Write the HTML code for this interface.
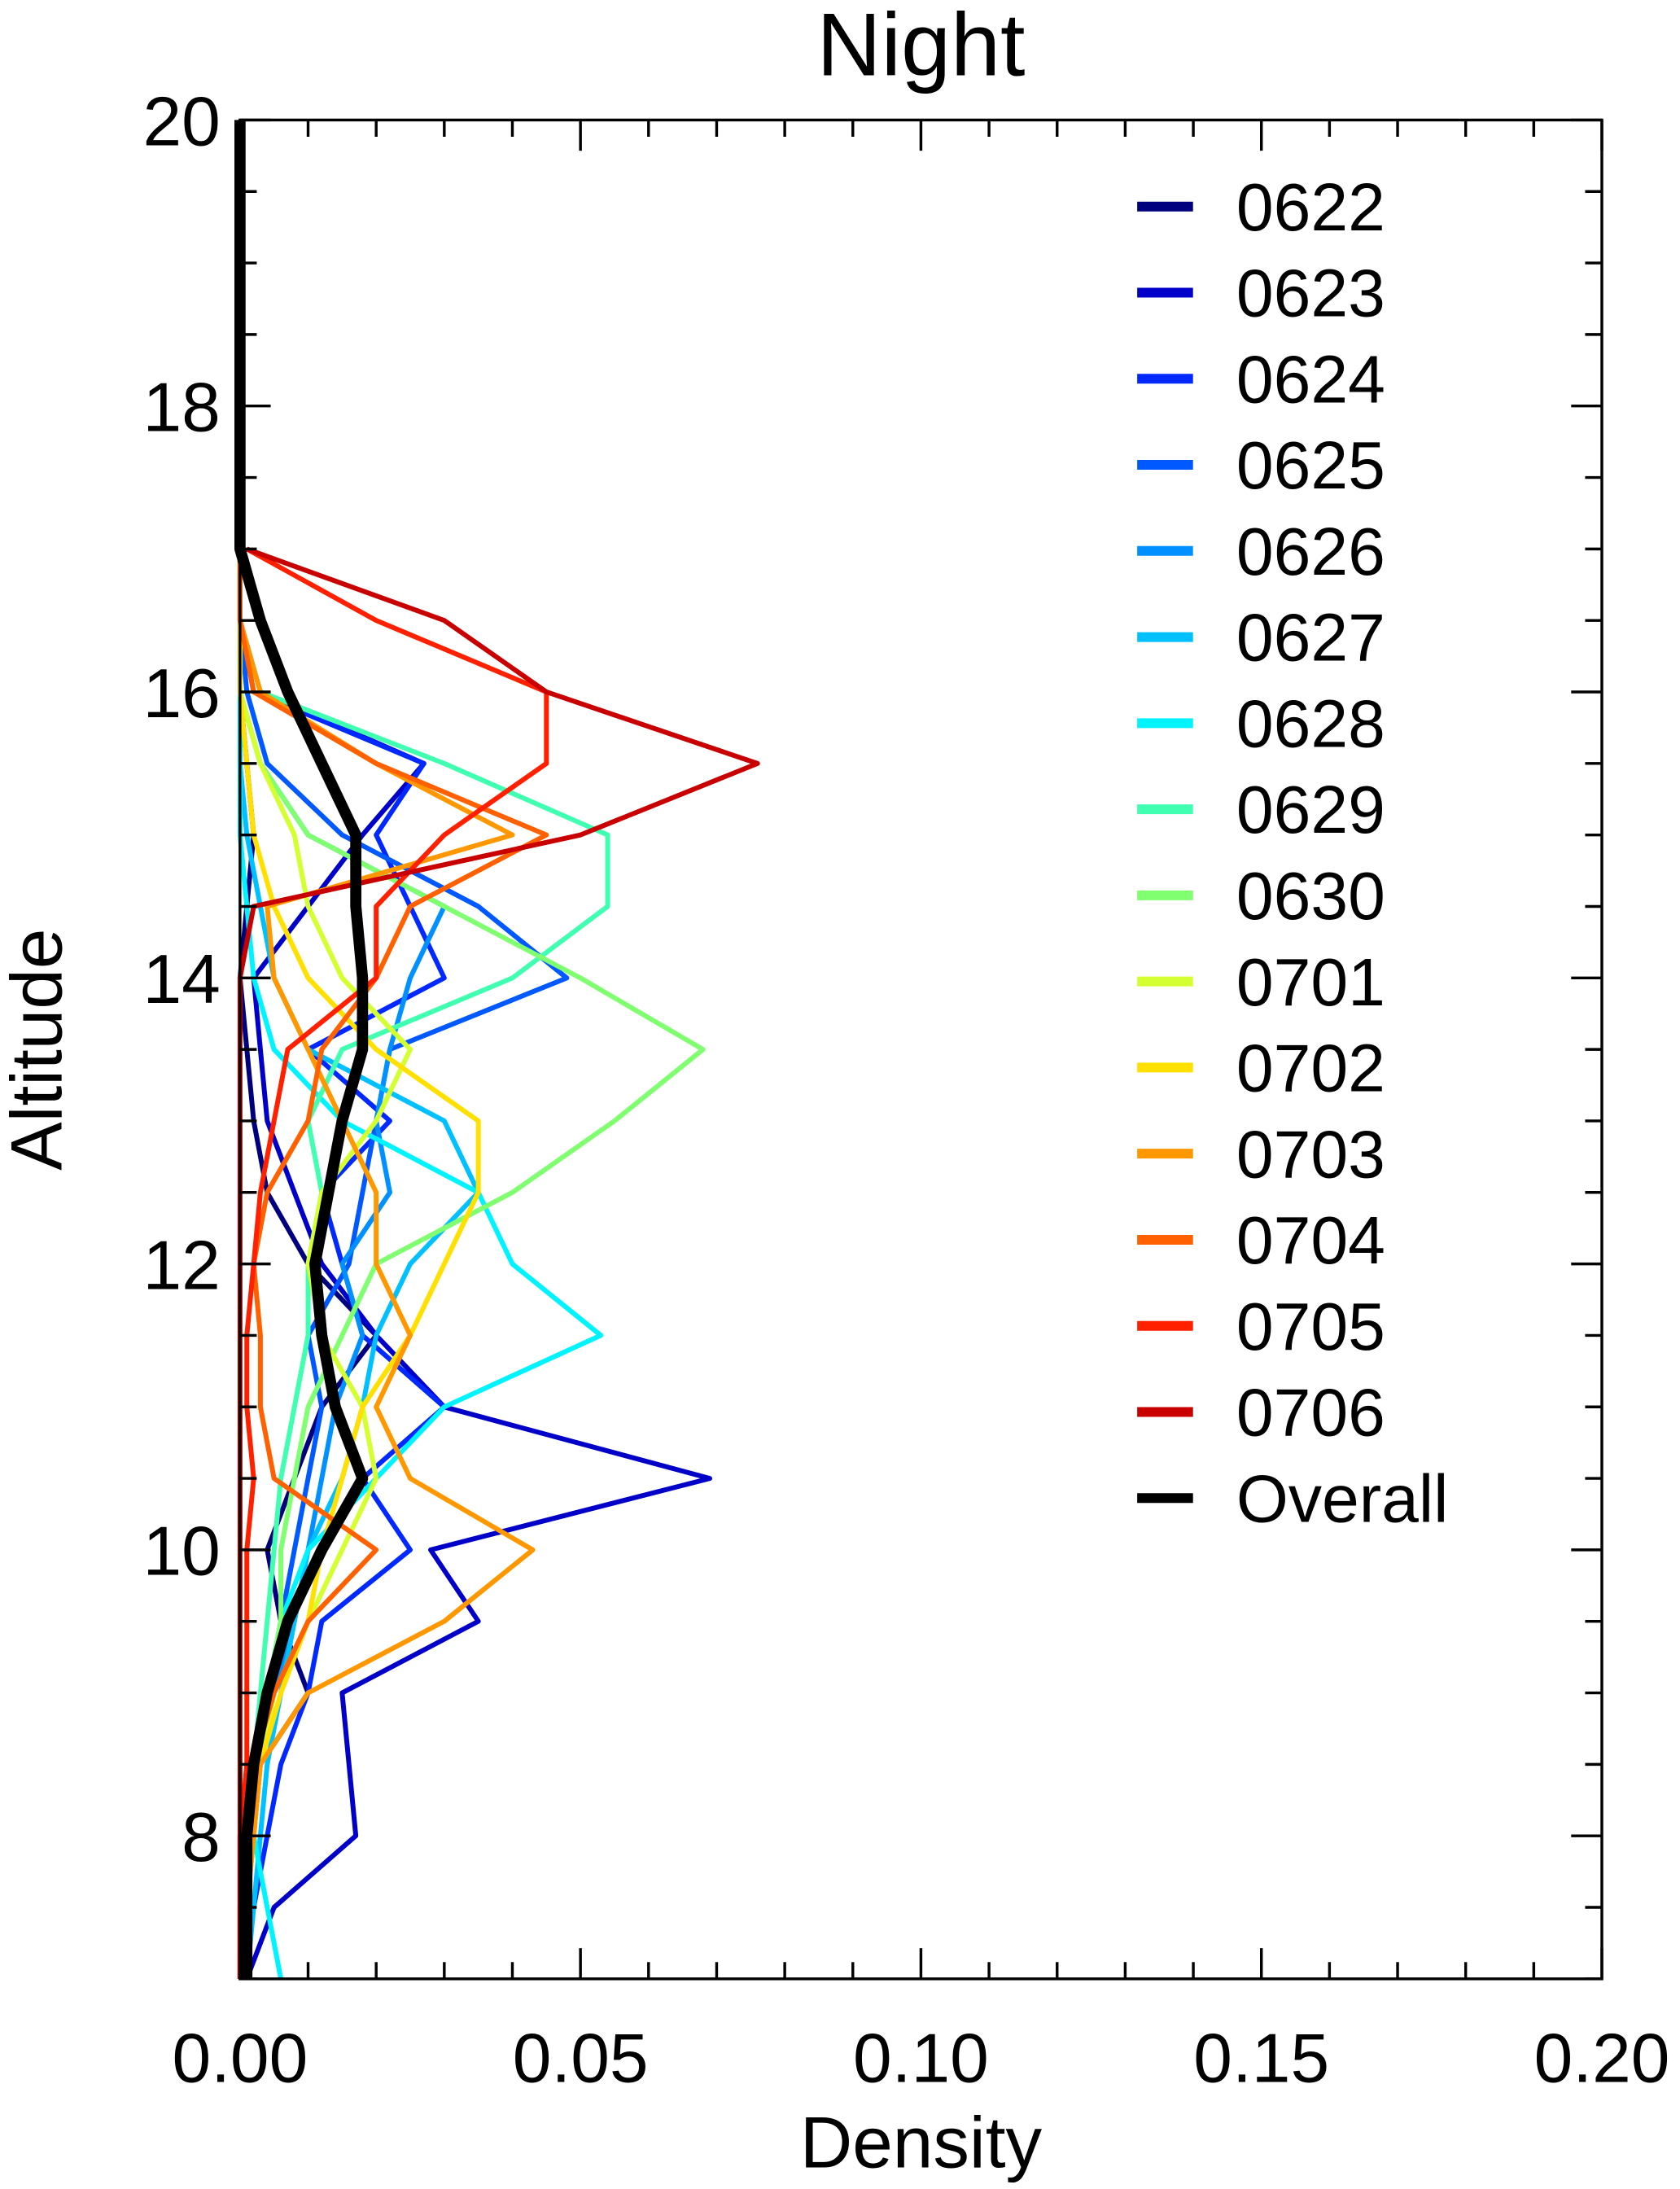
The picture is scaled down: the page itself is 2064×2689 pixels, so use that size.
<!DOCTYPE html>
<html><head><meta charset="utf-8"><style>
html,body{margin:0;padding:0;background:#fff;}
svg{display:block;}
text{font-family:"Liberation Sans",sans-serif;fill:#000;}
</style></head><body>
<svg id="chart" width="2064" height="2689" viewBox="0 0 1204 1568.6" preserveAspectRatio="none" xmlns="http://www.w3.org/2000/svg">
<text x="660" y="54" font-size="64" text-anchor="middle">Night</text>
<text transform="translate(44,752) rotate(-90)" font-size="52" text-anchor="middle">Altitude</text>
<text x="660" y="1553" font-size="52" text-anchor="middle">Density</text>
<g id="series"></g>
<g id="axes"></g>
<g id="legend"></g>
<rect x="172" y="86" width="976" height="1332" fill="none" stroke="#000" stroke-width="2"/>
</svg>
<script>
const alts = [7,7.5,8,8.5,9,9.5,10,10.5,11,11.5,12,12.5,13,13.5,14,14.5,15,15.5,16,16.5,17];
const names = ["0622","0623","0624","0625","0626","0627","0628","0629","0630","0701","0702","0703","0704","0705","0706","Overall"];
const colors = ["#00007f","#0000c8","#0028ff","#0058ff","#0090ff","#00c0ff","#00f4ff","#40ffb0","#80ff70","#d4ff30","#ffe000","#ff9800","#ff6000","#ff2000","#c80000","#000000"];
const s0622 = [0.000,0.001,0.002,0.003,0.010,0.006,0.004,0.008,0.012,0.020,0.010,0.004,0.002,0.001,0.000,0.001,0.002,0.001,0.000,0,0];
const s0623 = [0.001,0.005,0.017,0.016,0.015,0.035,0.028,0.069,0.030,0.020,0.012,0.008,0.004,0.003,0.002,0.010,0.018,0.027,0.003,0,0];
const s0624 = [0.000,0.002,0.004,0.006,0.010,0.012,0.025,0.018,0.030,0.018,0.015,0.012,0.022,0.010,0.030,0.025,0.020,0.027,0.002,0,0];
const s0625 = [0.000,0.001,0.002,0.003,0.004,0.006,0.008,0.010,0.012,0.010,0.016,0.018,0.020,0.022,0.048,0.035,0.015,0.004,0.001,0,0];
const s0626 = [0.000,0.001,0.002,0.003,0.005,0.008,0.010,0.012,0.014,0.018,0.015,0.022,0.020,0.022,0.025,0.030,0.010,0.003,0.000,0,0];
const s0627 = [0.001,0.002,0.003,0.004,0.006,0.008,0.010,0.015,0.018,0.020,0.025,0.035,0.030,0.010,0.005,0.003,0.001,0.000,0.000,0,0];
const s0628 = [0.006,0.004,0.002,0.002,0.004,0.006,0.010,0.020,0.030,0.053,0.040,0.035,0.015,0.005,0.002,0.001,0.000,0.000,0.000,0,0];
const s0629 = [0.000,0.001,0.001,0.002,0.003,0.004,0.005,0.006,0.008,0.010,0.010,0.012,0.010,0.015,0.040,0.054,0.054,0.030,0.003,0,0];
const s0630 = [0.000,0.001,0.002,0.003,0.004,0.006,0.006,0.008,0.010,0.015,0.020,0.040,0.055,0.068,0.050,0.030,0.010,0.003,0.000,0,0];
const s0701 = [0.000,0.001,0.002,0.003,0.005,0.010,0.015,0.020,0.018,0.012,0.010,0.012,0.020,0.025,0.015,0.010,0.008,0.003,0.000,0,0];
const s0702 = [0.000,0.001,0.002,0.003,0.006,0.010,0.012,0.015,0.018,0.025,0.030,0.035,0.035,0.020,0.010,0.005,0.002,0.001,0.000,0,0];
const s0703 = [0.000,0.001,0.002,0.003,0.010,0.030,0.043,0.025,0.020,0.025,0.020,0.020,0.015,0.010,0.005,0.004,0.040,0.020,0.003,0,0];
const s0704 = [0.000,0.000,0.001,0.002,0.005,0.010,0.020,0.005,0.003,0.003,0.002,0.004,0.010,0.012,0.020,0.025,0.045,0.020,0.002,0,0];
const s0705 = [0.000,0.000,0.000,0.001,0.001,0.001,0.001,0.002,0.001,0.001,0.002,0.003,0.005,0.007,0.020,0.020,0.030,0.045,0.045,0.020,0.001];
const s0706 = [0.000,0.000,0.000,0.000,0.000,0.000,0.000,0.000,0.000,0.000,0.000,0.000,0.000,0.000,0.000,0.002,0.050,0.076,0.045,0.030,0.001];
const sOverall = [0.001,0.001,0.001,0.002,0.004,0.007,0.012,0.018,0.014,0.012,0.011,0.013,0.015,0.018,0.018,0.017,0.017,0.012,0.007,0.003,0.000];
const series = [s0622,s0623,s0624,s0625,s0626,s0627,s0628,s0629,s0630,s0701,s0702,s0703,s0704,s0705,s0706,sOverall];
const xTicks = [0,0.05,0.10,0.15,0.20];
const xTickLabels = ["0.00","0.05","0.10","0.15","0.20"];
const yTicks = [8,10,12,14,16,18,20];
const yTickLabels = ["8","10","12","14","16","18","20"];

const X0=172,X1=1148,Y0=1418,Y1=86;
const xScale = v => X0 + (v/0.20)*(X1-X0);
const yScale = a => Y0 - (a-7)/13*(Y0-Y1);
const NS="http://www.w3.org/2000/svg";
const sg=document.getElementById('series');
series.forEach((s,i)=>{
  const pts = s.map((v,j)=>xScale(v).toFixed(1)+','+yScale(alts[j]).toFixed(1));
  if(i===15) pts.push(xScale(0)+','+yScale(20));
  const p=document.createElementNS(NS,'polyline');
  p.setAttribute('points',pts.join(' '));
  p.setAttribute('fill','none');
  p.setAttribute('stroke',colors[i]);
  p.setAttribute('stroke-width',i===15?8:3.5);
  p.setAttribute('stroke-linejoin','round');
  
  
  sg.appendChild(p);
});
const ag=document.getElementById('axes');
function line(x1,y1,x2,y2,name){
  const l=document.createElementNS(NS,'line');
  l.setAttribute('x1',x1);l.setAttribute('y1',y1);l.setAttribute('x2',x2);l.setAttribute('y2',y2);
  l.setAttribute('stroke','#000');l.setAttribute('stroke-width',2);
  
  
  ag.appendChild(l);
}
function text(x,y,t,anchor,name){
  const e=document.createElementNS(NS,'text');
  e.setAttribute('x',x);e.setAttribute('y',y);e.setAttribute('font-size','50');e.setAttribute('text-anchor',anchor);
  e.textContent=t;
  
  
  ag.appendChild(e);
}
for(let k=0;k<=20;k++){
  const x=xScale(k*0.01), len=(k%5===0)?22:12;
  line(x,Y0,x,Y0-len,'x-tick');
  line(x,Y1,x,Y1+len,'x-tick-top');
}
for(let k=0;k<=26;k++){
  const a=7+k*0.5, y=yScale(a), len=(a%2===0)?22:12;
  line(X0,y,X0+len,y,'y-tick');
  line(X1,y,X1-len,y,'y-tick-right');
}
xTicks.forEach((v,i)=>text(xScale(v),1492,xTickLabels[i],'middle','x-tick-label'));
yTicks.forEach((v,i)=>text(158,yScale(v)+18,yTickLabels[i],'end','y-tick-label'));
const lg=document.getElementById('legend');
names.forEach((n,i)=>{
  const y=148+i*61.7;
  const l=document.createElementNS(NS,'line');
  l.setAttribute('x1',815);l.setAttribute('x2',855);l.setAttribute('y1',y);l.setAttribute('y2',y);
  l.setAttribute('stroke',colors[i]);l.setAttribute('stroke-width',7);
  
  
  lg.appendChild(l);
  const t=document.createElementNS(NS,'text');
  t.setAttribute('x',886);t.setAttribute('y',y+17);t.setAttribute('font-size','48');
  t.textContent=n;
  
  
  lg.appendChild(t);
});
</script>
</body></html>
